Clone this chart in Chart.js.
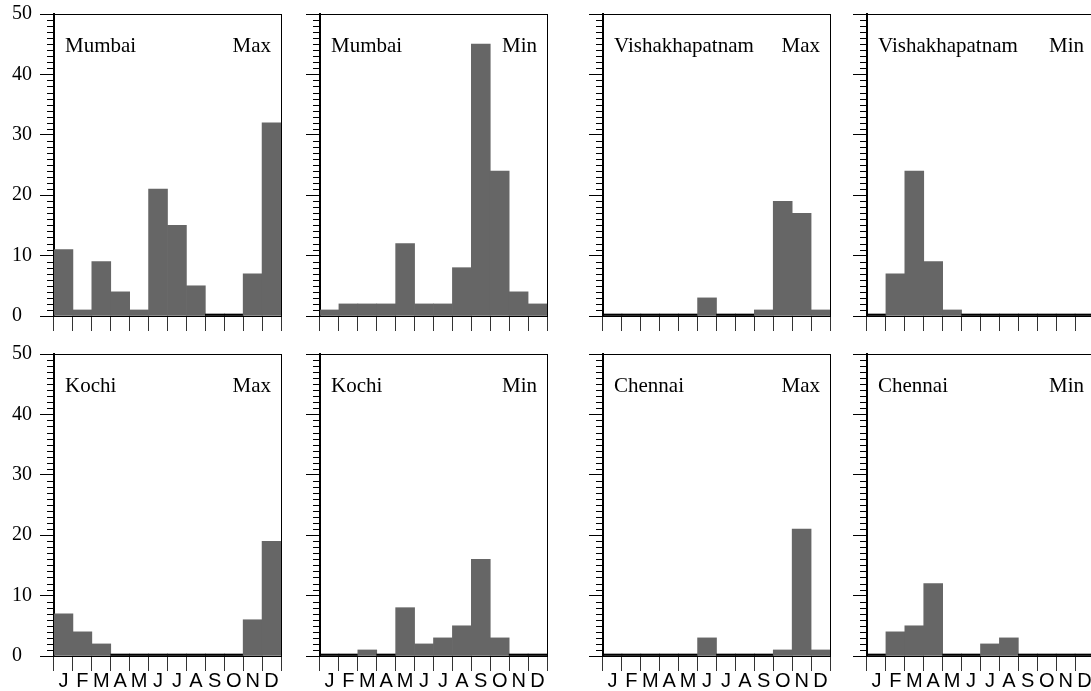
<!DOCTYPE html>
<html><head><meta charset="utf-8">
<script src="https://cdn.jsdelivr.net/npm/chart.js@4.4.0/dist/chart.umd.min.js"></script>
<style>
html,body{margin:0;padding:0;background:#fff;}
#wrap{position:relative;width:1091px;height:691px;overflow:hidden;background:#fff;}
canvas{position:absolute;}
</style></head><body><div id="wrap"></div>
<script>
// ---- data ----
const months = ['J','F','M','A','M','J','J','A','S','O','N','D'];
const yTicks = [0, 10, 20, 30, 40, 50];
const mumbaiMax  = [11, 1, 9, 4, 1, 21, 15, 5, 0, 0, 7, 32];
const mumbaiMin  = [1, 2, 2, 2, 12, 2, 2, 8, 45, 24, 4, 2];
const vizagMax   = [0, 0, 0, 0, 0, 3, 0, 0, 1, 19, 17, 1];
const vizagMin   = [0, 7, 24, 9, 1, 0, 0, 0, 0, 0, 0, 0];
const kochiMax   = [7, 4, 2, 0, 0, 0, 0, 0, 0, 0, 6, 19];
const kochiMin   = [0, 0, 1, 0, 8, 2, 3, 5, 16, 3, 0, 0];
const chennaiMax = [0, 0, 0, 0, 0, 3, 0, 0, 0, 1, 21, 1];
const chennaiMin = [0, 4, 5, 12, 0, 0, 2, 3, 0, 0, 0, 0];
const cities = ['Mumbai', 'Vishakhapatnam', 'Kochi', 'Chennai'];
const kinds = ['Max', 'Min'];

// ---- layout ----
const colX = [54, 320, 603, 867];
const rowTop = [14, 354];
const plotW = 227, plotH = 302;
const AXIS_W = 42, PAD_T = 14, PAD_R = 8;
const bottomH = [20, 37];
const minorStep = 1;

const panels = [
  {city: cities[0], kind: kinds[0], data: mumbaiMax,  col: 0, row: 0},
  {city: cities[0], kind: kinds[1], data: mumbaiMin,  col: 1, row: 0},
  {city: cities[1], kind: kinds[0], data: vizagMax,   col: 2, row: 0},
  {city: cities[1], kind: kinds[1], data: vizagMin,   col: 3, row: 0},
  {city: cities[2], kind: kinds[0], data: kochiMax,   col: 0, row: 1},
  {city: cities[2], kind: kinds[1], data: kochiMin,   col: 1, row: 1},
  {city: cities[3], kind: kinds[0], data: chennaiMax, col: 2, row: 1},
  {city: cities[3], kind: kinds[1], data: chennaiMin, col: 3, row: 1}
];

const framePlugin = {
  id: 'frame',
  afterDraw(chart, args, opts) {
    const ctx = chart.ctx, a = chart.chartArea, y = chart.scales.y, x = chart.scales.x;
    ctx.save();
    ctx.strokeStyle = '#000';
    ctx.lineWidth = 1;
    ctx.beginPath();
    for (let v = y.min; v <= y.max; v += minorStep) {
      if (v % 10 === 0) continue;
      const py = Math.round(y.getPixelForValue(v)) + 0.5;
      ctx.moveTo(a.left - 7, py);
      ctx.lineTo(a.left, py);
    }
    ctx.moveTo(a.left, a.top + 0.5);
    ctx.lineTo(a.right + 0.5, a.top + 0.5);
    ctx.moveTo(a.right + 0.5, a.top);
    ctx.lineTo(a.right + 0.5, a.bottom);
    ctx.stroke();
    ctx.fillStyle = '#000';
    ctx.font = '21px "Liberation Serif", "Times New Roman", serif';
    ctx.textBaseline = 'alphabetic';
    ctx.textAlign = 'left';
    ctx.fillText(opts.city, a.left + 11, a.top + 38);
    ctx.textAlign = 'right';
    ctx.fillText(opts.kind, a.right - 10, a.top + 38);
    if (opts.showMonths) {
      ctx.font = '20px "Liberation Sans", Arial, sans-serif';
      ctx.textAlign = 'center';
      ctx.textBaseline = 'alphabetic';
      chart.data.labels.forEach((lab, i) => {
        ctx.fillText(lab, x.getPixelForValue(i), a.bottom + 31);
      });
    }
    ctx.restore();
  }
};

const wrap = document.getElementById('wrap');
panels.forEach(p => {
  const cv = document.createElement('canvas');
  const w = AXIS_W + plotW + PAD_R;
  const h = PAD_T + plotH + bottomH[p.row];
  cv.width = w; cv.height = h;
  cv.style.width = w + 'px'; cv.style.height = h + 'px';
  cv.style.left = (colX[p.col] - AXIS_W) + 'px';
  cv.style.top = (rowTop[p.row] - PAD_T) + 'px';
  wrap.appendChild(cv);
  new Chart(cv, {
    type: 'bar',
    data: {
      labels: months,
      datasets: [{
        data: p.data,
        backgroundColor: c => (c.raw === 0 ? '#000' : '#666'),
        barPercentage: 1,
        categoryPercentage: 1,
        minBarLength: 2,
        borderWidth: 0
      }]
    },
    options: {
      responsive: false,
      animation: false,
      devicePixelRatio: 1,
      layout: {padding: {top: PAD_T, right: PAD_R, left: 0, bottom: 0}},
      plugins: {
        legend: {display: false},
        tooltip: {enabled: false},
        frame: {city: p.city, kind: p.kind, showMonths: p.row === 1}
      },
      scales: {
        x: {
          type: 'category',
          offset: true,
          grid: {offset: true, drawOnChartArea: false, tickLength: 15, color: '#333', lineWidth: 1},
          border: {color: '#000', width: 1},
          ticks: {display: false, autoSkip: false, maxRotation: 0, minRotation: 0},
          afterFit: s => { s.height = bottomH[p.row]; }
        },
        y: {
          min: yTicks[0],
          max: yTicks[yTicks.length - 1],
          afterBuildTicks: s => { s.ticks = yTicks.map(v => ({value: v})); },
          ticks: {
            display: p.col === 0, crossAlign: 'far', padding: 0, color: '#000',
            font: {family: '"Liberation Serif", "Times New Roman", serif', size: 20}
          },
          grid: {drawOnChartArea: false, tickLength: 14, color: '#000'},
          border: {color: '#000', width: 2},
          afterFit: s => { s.width = AXIS_W; }
        }
      }
    },
    plugins: [framePlugin]
  });
});
</script>
</body></html>
